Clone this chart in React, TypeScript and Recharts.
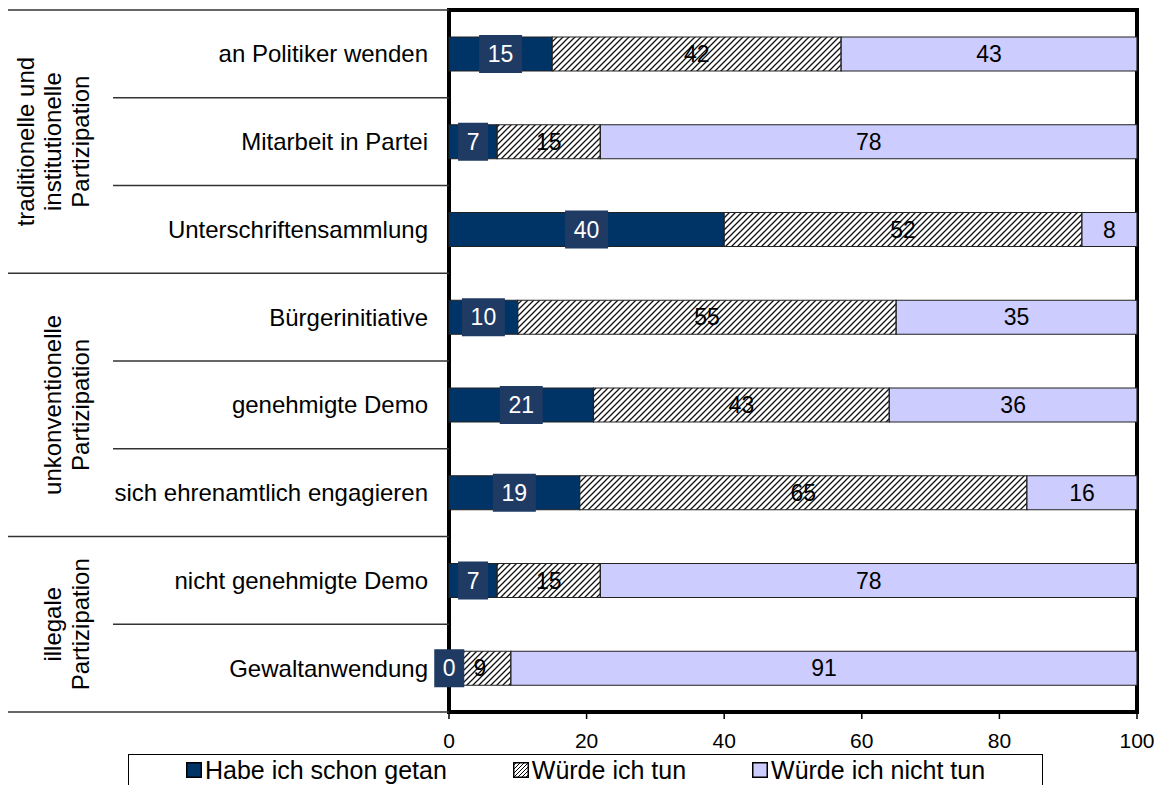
import { BarChart, Bar, XAxis, YAxis, LabelList, ReferenceArea } from 'recharts'

const categories = [
  'an Politiker wenden',
  'Mitarbeit in Partei',
  'Unterschriftensammlung',
  'Bürgerinitiative',
  'genehmigte Demo',
  'sich ehrenamtlich engagieren',
  'nicht genehmigte Demo',
  'Gewaltanwendung',
]
const schonGetan = [15, 7, 40, 10, 21, 19, 7, 0]
const wuerdeTun = [42, 15, 52, 55, 43, 65, 15, 9]
const wuerdeNichtTun = [43, 78, 8, 35, 36, 16, 78, 91]
const xTicks = [0, 20, 40, 60, 80, 100]

const groups = [
  { first: 0, last: 2, lines: ['traditionelle und', 'institutionelle', 'Partizipation'] },
  { first: 3, last: 5, lines: ['unkonventionelle', 'Partizipation'] },
  { first: 6, last: 7, lines: ['illegale', 'Partizipation'] },
]

const series = [
  { key: 'done', name: 'Habe ich schon getan', fill: '#003366' },
  { key: 'would', name: 'Würde ich tun', fill: 'url(#hatch)' },
  { key: 'wouldNot', name: 'Würde ich nicht tun', fill: '#ccccff' },
]

const data = categories.map((name, i) => ({
  name,
  done: schonGetan[i],
  would: wuerdeTun[i],
  wouldNot: wuerdeNichtTun[i],
}))

const W = 1164
const H = 785
const TOP = 10
const BOTTOM = 712
const LEFT = 449
const RIGHT = 1137
const BAND = (BOTTOM - TOP) / categories.length
const FONT = '"Liberation Sans", Arial, sans-serif'

const groupStart = new Set(groups.map(g => g.first))

function CategoryTick(props: any) {
  const { x, y, payload } = props
  const i: number = payload.index ?? props.index
  const top = y - BAND / 2
  const group = groups.find(g => g.first === i)
  return (
    <g>
      <line x1={groupStart.has(i) ? 8 : 113} x2={LEFT} y1={top} y2={top} stroke="#333" strokeWidth={1.5} />
      {i === categories.length - 1 && (
        <line x1={8} x2={LEFT} y1={top + BAND} y2={top + BAND} stroke="#333" strokeWidth={1.5} />
      )}
      <text x={x} y={y} textAnchor="end" dominantBaseline="central" fontSize={24} fill="#000">
        {payload.value}
      </text>
      {group && group.lines.map((line, k) => {
        const cy = top + ((group.last - group.first + 1) * BAND) / 2
        const cx = 80 - (group.lines.length - 1 - k) * 27.5
        return (
          <text key={k} x={cx} y={cy} transform={`rotate(-90 ${cx} ${cy})`} textAnchor="middle"
            dominantBaseline="central" fontSize={24} fill="#000">
            {line}
          </text>
        )
      })}
    </g>
  )
}

// dark boxed label for the first segment
function DoneLabel(props: any) {
  const x = Number(props.x), y = Number(props.y)
  const w = Number(props.width), h = Number(props.height)
  const cx = x + w / 2
  const cy = y + h / 2
  const bw = String(props.value).length * 13 + 17
  return (
    <g>
      <rect x={cx - bw / 2} y={cy - 19} width={bw} height={38} fill="#1f3b64" />
      <text x={cx} y={cy} textAnchor="middle" dominantBaseline="central" fontSize={23} fill="#fff">
        {props.value}
      </text>
    </g>
  )
}

function PlainLabel(props: any) {
  const x = Number(props.x), y = Number(props.y)
  const w = Number(props.width), h = Number(props.height)
  return (
    <text x={x + w / 2} y={y + h / 2} textAnchor="middle" dominantBaseline="central" fontSize={23} fill="#000">
      {props.value}
    </text>
  )
}

function Marker({ fill }: { fill: string }) {
  return (
    <svg width={16} height={16} style={{ marginRight: 3 }}>
      <defs>
        <pattern id="hatchSmall" patternUnits="userSpaceOnUse" width={4} height={4}>
          <rect width={4} height={4} fill="#fff" />
          <path d="M0,4 L4,0 M-1,1 L1,-1 M3,5 L5,3" stroke="#000" strokeWidth={1} />
        </pattern>
      </defs>
      <rect x={0.75} y={0.75} width={14.5} height={14.5}
        fill={fill === 'url(#hatch)' ? 'url(#hatchSmall)' : fill} stroke="#000" strokeWidth={1.5} />
    </svg>
  )
}

export default function App() {
  return (
    <div style={{ position: 'fixed', left: 0, top: 0, width: W, height: H, background: '#fff', fontFamily: FONT, overflow: 'hidden' }}>
      <BarChart width={W} height={H} data={data} layout="vertical" barSize={34}
        margin={{ top: TOP, right: W - RIGHT, bottom: H - BOTTOM - 40, left: 0 }}>
        <defs>
          <pattern id="hatch" patternUnits="userSpaceOnUse" width={6} height={6}>
            <rect width={6} height={6} fill="#fff" />
            <path d="M0,6 L6,0 M-1,1 L1,-1 M5,7 L7,5" stroke="#111" strokeWidth={1.3} />
          </pattern>
        </defs>
        <XAxis type="number" domain={[0, 100]} ticks={xTicks} height={40} axisLine={false}
          tickLine={{ stroke: '#000', strokeWidth: 1.5 }} tickSize={7} tickMargin={14}
          tick={{ fontSize: 21, fill: '#000' }} />
        <YAxis type="category" dataKey="name" width={LEFT} tickSize={0} tickMargin={21}
          axisLine={false} tickLine={false} interval={0} tick={CategoryTick} />
        {series.map((s, idx) => (
          <Bar key={s.key} dataKey={s.key} name={s.name} stackId="a" fill={s.fill}
            stroke="#222" strokeWidth={1.2} minPointSize={idx === 0 ? 0.5 : 0} isAnimationActive={false}>
            <LabelList dataKey={s.key} content={idx === 0 ? DoneLabel : PlainLabel} />
          </Bar>
        ))}
        {/* plot frame */}
        <ReferenceArea x1={0} x2={100} fill="none" stroke="#000" strokeWidth={4} ifOverflow="visible" />
      </BarChart>
      <div style={{ position: 'absolute', left: 128, top: 754, width: 915, height: 40, border: '1.5px solid #000',
        display: 'flex', alignItems: 'flex-start', justifyContent: 'center', gap: 66, paddingTop: 1, boxSizing: 'border-box' }}>
        {series.map(s => (
          <div key={s.key} style={{ display: 'flex', alignItems: 'center', fontSize: 25, lineHeight: '28px' }}>
            <Marker fill={s.fill} />
            <span>{s.name}</span>
          </div>
        ))}
      </div>
    </div>
  )
}
